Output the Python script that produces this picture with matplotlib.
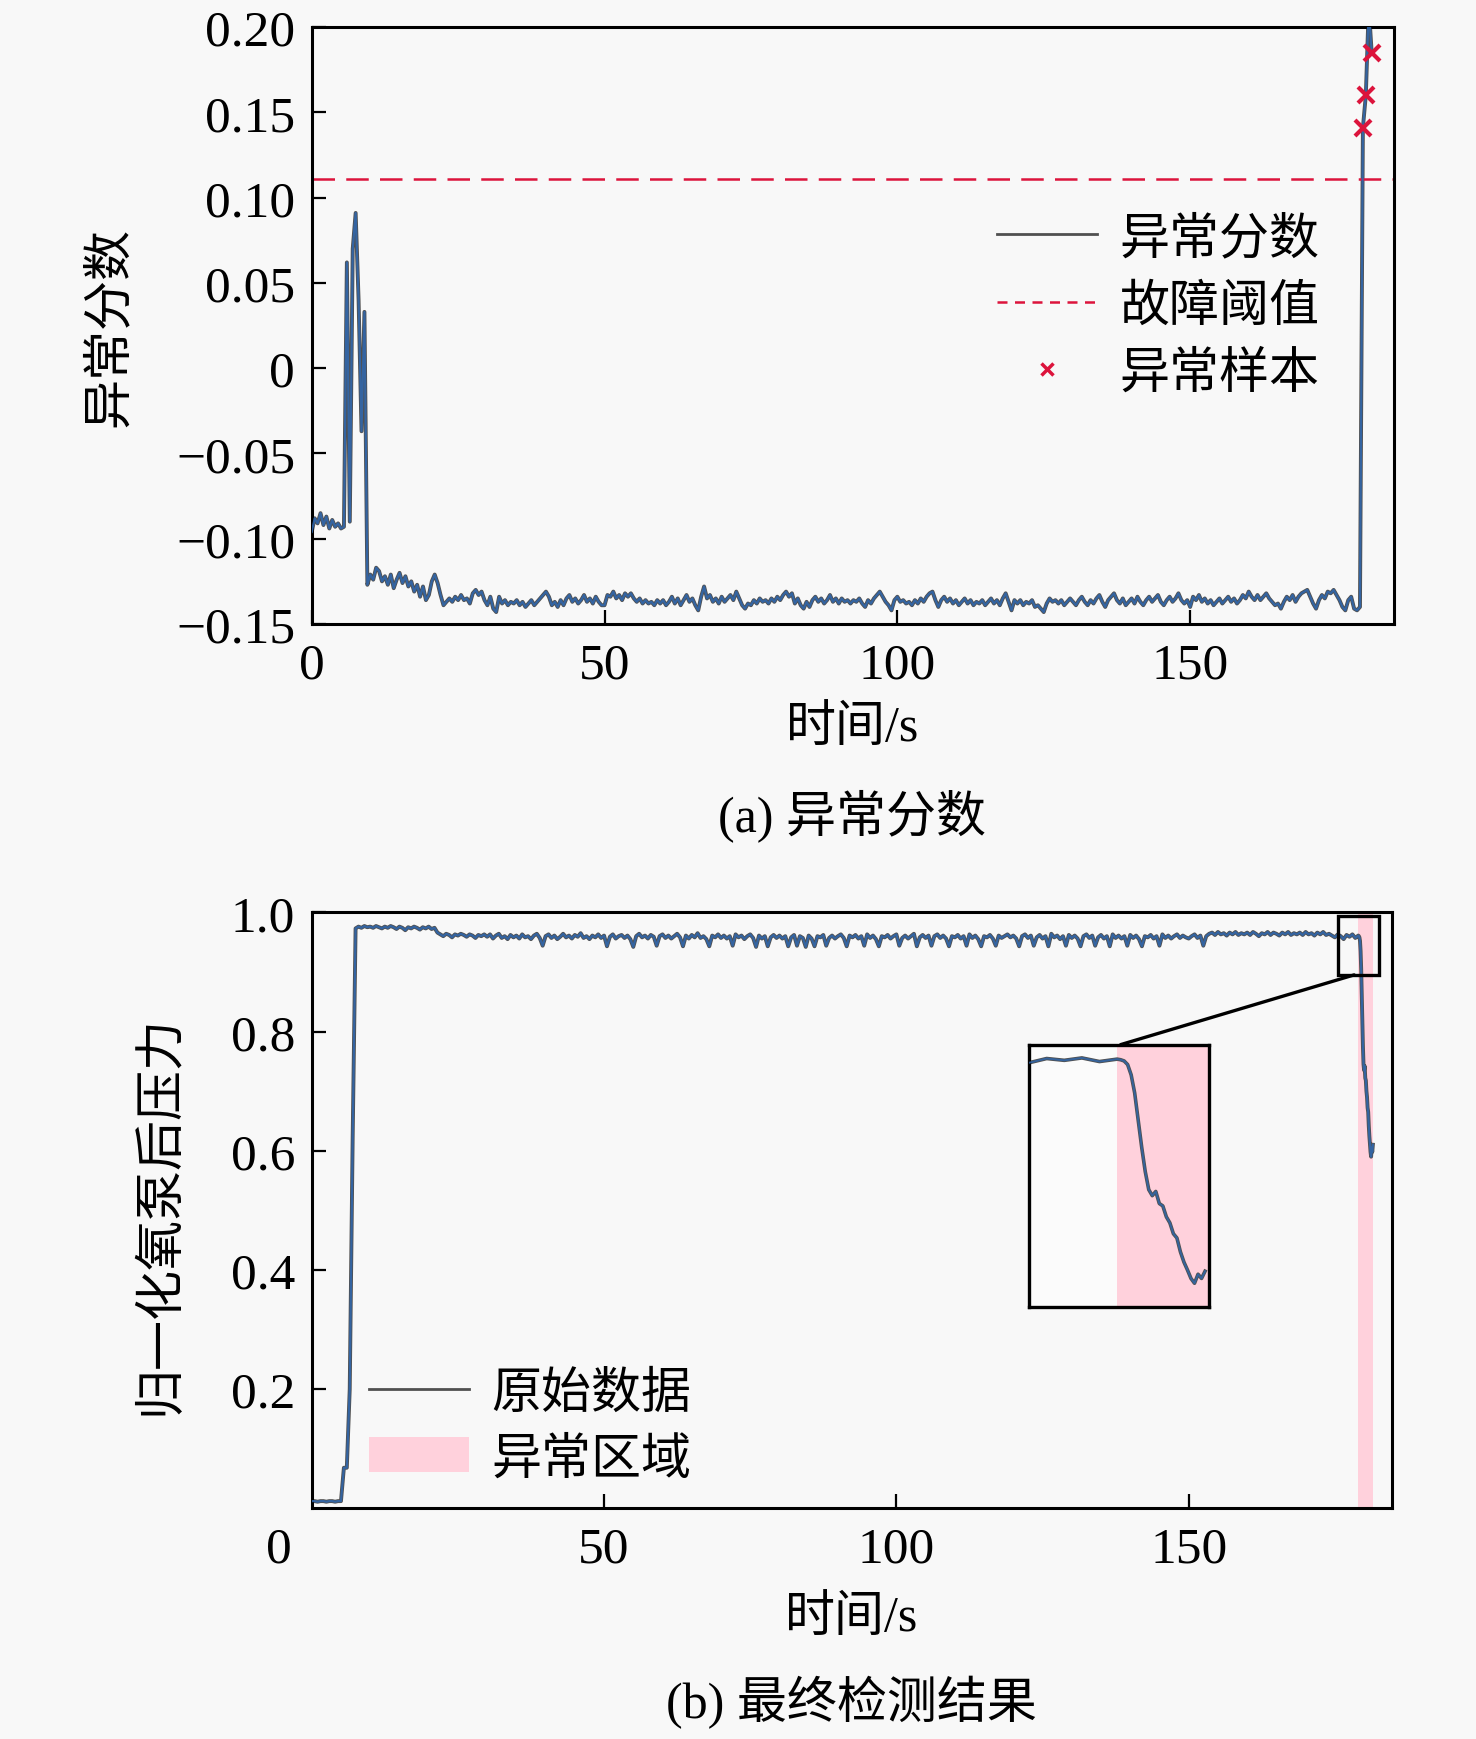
import numpy as np
import matplotlib.pyplot as plt
from matplotlib.lines import Line2D
from matplotlib.patches import Patch, Rectangle, ConnectionPatch

plt.rcParams['font.family'] = ['Liberation Serif', 'Noto Sans CJK SC']
plt.rcParams['axes.unicode_minus'] = True

# ---------------- data ----------------
# both records are sampled every 0.5 s up to 179 s
t_base = np.arange(0, 179.5, 0.5)

score_base = [
    -0.096, -0.088, -0.091, -0.085, -0.092, -0.087, -0.094, -0.089, -0.093, -0.091,
    -0.094, -0.093, 0.062, -0.090, 0.070, 0.091, 0.040, -0.037, 0.033, -0.127,
    -0.121, -0.124, -0.117, -0.119, -0.125, -0.122, -0.127, -0.121, -0.129, -0.124,
    -0.120, -0.126, -0.122, -0.128, -0.125, -0.131, -0.127, -0.134, -0.128, -0.136,
    -0.133, -0.125, -0.121, -0.126, -0.133, -0.139, -0.137, -0.135, -0.137, -0.134,
    -0.136, -0.133, -0.136, -0.135, -0.138, -0.132, -0.130, -0.133, -0.131, -0.136,
    -0.139, -0.134, -0.141, -0.143, -0.134, -0.138, -0.136, -0.139, -0.137, -0.138,
    -0.136, -0.139, -0.137, -0.140, -0.138, -0.136, -0.139, -0.137, -0.135, -0.133,
    -0.131, -0.134, -0.139, -0.137, -0.140, -0.136, -0.139, -0.135, -0.133, -0.137,
    -0.135, -0.138, -0.136, -0.133, -0.137, -0.135, -0.138, -0.134, -0.137, -0.139,
    -0.139, -0.133, -0.134, -0.131, -0.135, -0.133, -0.136, -0.132, -0.134, -0.132,
    -0.135, -0.137, -0.135, -0.138, -0.136, -0.138, -0.137, -0.139, -0.136, -0.138,
    -0.136, -0.139, -0.137, -0.134, -0.138, -0.135, -0.139, -0.136, -0.133, -0.137,
    -0.135, -0.139, -0.142, -0.134, -0.128, -0.135, -0.133, -0.137, -0.135, -0.138,
    -0.134, -0.137, -0.135, -0.133, -0.136, -0.131, -0.135, -0.139, -0.141, -0.138,
    -0.139, -0.136, -0.138, -0.135, -0.137, -0.136, -0.138, -0.135, -0.137, -0.134,
    -0.136, -0.133, -0.131, -0.134, -0.132, -0.138, -0.135, -0.139, -0.141, -0.137,
    -0.140, -0.136, -0.134, -0.137, -0.135, -0.138, -0.136, -0.133, -0.137, -0.135,
    -0.138, -0.135, -0.137, -0.136, -0.138, -0.136, -0.137, -0.135, -0.138, -0.140,
    -0.136, -0.138, -0.135, -0.133, -0.131, -0.134, -0.137, -0.139, -0.142, -0.136,
    -0.134, -0.137, -0.136, -0.138, -0.137, -0.139, -0.136, -0.138, -0.135, -0.137,
    -0.134, -0.132, -0.131, -0.136, -0.140, -0.136, -0.134, -0.137, -0.135, -0.138,
    -0.136, -0.139, -0.137, -0.135, -0.138, -0.136, -0.139, -0.137, -0.138, -0.136,
    -0.139, -0.137, -0.135, -0.138, -0.136, -0.139, -0.135, -0.132, -0.137, -0.142,
    -0.136, -0.138, -0.136, -0.139, -0.137, -0.138, -0.136, -0.140, -0.139, -0.141,
    -0.143, -0.138, -0.135, -0.137, -0.136, -0.138, -0.136, -0.139, -0.137, -0.135,
    -0.137, -0.139, -0.136, -0.134, -0.137, -0.139, -0.136, -0.138, -0.135, -0.133,
    -0.137, -0.140, -0.136, -0.134, -0.132, -0.136, -0.138, -0.135, -0.139, -0.137,
    -0.135, -0.138, -0.134, -0.137, -0.139, -0.136, -0.134, -0.137, -0.135, -0.133,
    -0.137, -0.139, -0.136, -0.134, -0.137, -0.135, -0.132, -0.136, -0.138, -0.136,
    -0.140, -0.134, -0.136, -0.133, -0.137, -0.135, -0.138, -0.136, -0.139, -0.137,
    -0.135, -0.138, -0.136, -0.134, -0.137, -0.135, -0.138, -0.136, -0.133, -0.135,
    -0.131, -0.134, -0.136, -0.133, -0.136, -0.134, -0.132, -0.135, -0.137, -0.139,
    -0.138, -0.141, -0.137, -0.134, -0.136, -0.133, -0.137, -0.134, -0.132, -0.131,
    -0.130, -0.134, -0.138, -0.141, -0.136, -0.133, -0.135, -0.131, -0.132, -0.130,
    -0.133, -0.136, -0.140, -0.142, -0.136, -0.134, -0.141, -0.142, -0.140,
]
t_spike = [179.5, 180.0, 180.5, 181.0]
score_spike = [0.141, 0.160, 0.212, 0.185]
threshold = 0.111

pressure_base = [
    0.012, 0.012, 0.011, 0.012, 0.012, 0.011, 0.012, 0.012, 0.011, 0.012,
    0.012, 0.068, 0.068, 0.200, 0.620, 0.973, 0.976, 0.974, 0.977, 0.975,
    0.976, 0.974, 0.977, 0.975, 0.973, 0.976, 0.974, 0.977, 0.975, 0.972,
    0.976, 0.974, 0.970, 0.975, 0.973, 0.976, 0.974, 0.971, 0.975, 0.973,
    0.976, 0.972, 0.974, 0.966, 0.963, 0.960, 0.964, 0.962, 0.958, 0.963,
    0.961, 0.964, 0.962, 0.959, 0.963, 0.961, 0.957, 0.962, 0.960, 0.963,
    0.959, 0.963, 0.956, 0.961, 0.964, 0.957, 0.960, 0.955, 0.962, 0.958,
    0.961, 0.956, 0.963, 0.958, 0.960, 0.955, 0.961, 0.964, 0.957, 0.944,
    0.960, 0.963, 0.957, 0.961, 0.955, 0.959, 0.964, 0.958, 0.961, 0.956,
    0.962, 0.959, 0.965, 0.957, 0.960, 0.955, 0.961, 0.958, 0.963, 0.957,
    0.961, 0.943, 0.959, 0.963, 0.956, 0.960, 0.962, 0.957, 0.961, 0.955,
    0.942, 0.960, 0.964, 0.958, 0.961, 0.956, 0.962, 0.959, 0.944, 0.960,
    0.963, 0.957, 0.961, 0.956, 0.960, 0.964, 0.958, 0.943, 0.961, 0.956,
    0.962, 0.958, 0.965, 0.957, 0.960, 0.955, 0.943, 0.961, 0.958, 0.963,
    0.957, 0.961, 0.956, 0.960, 0.944, 0.963, 0.958, 0.961, 0.955, 0.960,
    0.963, 0.957, 0.942, 0.961, 0.956, 0.960, 0.943, 0.958, 0.962, 0.957,
    0.961, 0.956, 0.960, 0.943, 0.958, 0.962, 0.944, 0.960, 0.957, 0.942,
    0.961, 0.956, 0.943, 0.960, 0.958, 0.962, 0.944, 0.957, 0.961, 0.956,
    0.960, 0.963, 0.957, 0.943, 0.961, 0.958, 0.962, 0.956, 0.960, 0.944,
    0.963, 0.957, 0.961, 0.955, 0.943, 0.960, 0.958, 0.962, 0.956, 0.960,
    0.963, 0.944, 0.957, 0.961, 0.956, 0.960, 0.964, 0.943, 0.958, 0.962,
    0.957, 0.961, 0.944, 0.960, 0.963, 0.957, 0.961, 0.956, 0.943, 0.960,
    0.958, 0.962, 0.956, 0.960, 0.944, 0.963, 0.957, 0.961, 0.955, 0.943,
    0.960, 0.958, 0.962, 0.956, 0.944, 0.961, 0.957, 0.960, 0.963, 0.958,
    0.961, 0.956, 0.943, 0.960, 0.963, 0.957, 0.961, 0.944, 0.958, 0.962,
    0.956, 0.960, 0.943, 0.964, 0.958, 0.961, 0.955, 0.960, 0.944, 0.962,
    0.957, 0.961, 0.956, 0.943, 0.960, 0.963, 0.957, 0.961, 0.944, 0.958,
    0.962, 0.956, 0.960, 0.943, 0.963, 0.957, 0.961, 0.956, 0.960, 0.944,
    0.962, 0.957, 0.961, 0.955, 0.943, 0.960, 0.958, 0.962, 0.956, 0.960,
    0.944, 0.963, 0.957, 0.961, 0.956, 0.960, 0.963, 0.957, 0.961, 0.958,
    0.956, 0.960, 0.963, 0.957, 0.961, 0.944, 0.960, 0.964, 0.966, 0.962,
    0.967, 0.963, 0.965, 0.961, 0.966, 0.963, 0.967, 0.962, 0.965, 0.963,
    0.966, 0.962, 0.967, 0.964, 0.960, 0.965, 0.963, 0.967, 0.962, 0.966,
    0.964, 0.961, 0.966, 0.963, 0.967, 0.962, 0.965, 0.963, 0.966, 0.962,
    0.967, 0.963, 0.965, 0.961, 0.966, 0.963, 0.967, 0.962, 0.964, 0.961,
    0.958, 0.963, 0.960, 0.955, 0.962, 0.959, 0.963, 0.957, 0.961,
]
t_drop = [179.1, 179.2, 179.3, 179.4, 179.5, 179.6, 179.7, 179.8, 179.9, 180.0,
          180.1, 180.2, 180.3, 180.4, 180.5, 180.6, 180.7, 180.8, 180.9, 181.0,
          181.1, 181.2, 181.3, 181.4, 181.5]
pressure_drop = [0.960, 0.958, 0.952, 0.935, 0.905, 0.860, 0.815, 0.775, 0.745, 0.735,
                 0.742, 0.722, 0.718, 0.700, 0.690, 0.672, 0.665, 0.642, 0.625, 0.612,
                 0.598, 0.590, 0.605, 0.598, 0.610]
anomaly_start, anomaly_end = 179.0, 181.6

score_yticks = [-0.15, -0.10, -0.05, 0, 0.05, 0.10, 0.15, 0.20]
score_ylabels = ['−0.15', '−0.10', '−0.05', '0', '0.05', '0.10', '0.15', '0.20']
press_yticks = [0.2, 0.4, 0.6, 0.8, 1.0]
press_ylabels = ['0.2', '0.4', '0.6', '0.8', '1.0']
xticks = [0, 50, 100, 150]

t_score = np.concatenate([t_base, t_spike])
score = np.array(score_base + score_spike)
t_press = np.concatenate([t_base, t_drop])
press = np.array(pressure_base + pressure_drop)

# ---------------- style ----------------
bg = '#f8f8f8'
gray = '#505050'
blue = '#2f68b0'
red = '#dc143c'
pink = '#ffd1dc'
tick_fs = 37
cjk_fs = 36

fig = plt.figure(figsize=(14.76, 17.40), dpi=100, facecolor=bg)
ax1 = fig.add_axes([0.2112, 0.6408, 0.7332, 0.3431])
ax2 = fig.add_axes([0.2112, 0.1326, 0.7316, 0.3425])


def style_axes(ax):
    ax.set_facecolor(bg)
    for s in ax.spines.values():
        s.set_linewidth(2.2)
    ax.tick_params(direction='in', length=10, width=1.6, labelsize=tick_fs,
                   top=False, right=False)
    ax.tick_params(axis='x', pad=13)
    ax.tick_params(axis='y', pad=12)


# ---- (a) anomaly score ----
style_axes(ax1)
ax1.plot(t_score, score, color=gray, lw=2.8, zorder=2)
ax1.plot(t_score, score, color=blue, lw=1.6, alpha=0.85, zorder=3)
ax1.axhline(threshold, color=red, lw=1.8, dashes=(9, 4.5), zorder=2)
mask = score > threshold
ax1.plot(t_score[mask], score[mask], ls='none', marker='x', ms=11, mew=3,
         color=red, zorder=4)
ax1.set_xlim(0, 184.8)
ax1.set_ylim(-0.15, 0.20)
ax1.set_xticks(xticks)
ax1.set_yticks(score_yticks)
ax1.set_yticklabels(score_ylabels)
ax1.text(0.5, -0.174, '时间/s', transform=ax1.transAxes, ha='center', va='center',
         fontsize=cjk_fs)
ax1.text(-0.186, 0.5, '异常分数', transform=ax1.transAxes, ha='center', va='center',
         rotation=90, fontsize=cjk_fs)

h1 = [Line2D([], [], color=gray, lw=2),
      Line2D([], [], color=red, lw=1.8, dashes=(4, 3)),
      Line2D([], [], ls='none', marker='x', ms=8, mew=2.5, color=red)]
ax1.legend(h1, ['异常分数', '故障阈值', '异常样本'], loc='upper left',
           bbox_to_anchor=(0.61, 0.725), frameon=False, fontsize=cjk_fs,
           handlelength=2.0, handletextpad=0.45, labelspacing=0.42, borderpad=0)

# ---- (b) final detection ----
style_axes(ax2)
ax2.axvspan(anomaly_start, anomaly_end, color=pink, lw=0, zorder=1)
ax2.plot(t_press, press, color=gray, lw=2.8, zorder=2)
ax2.plot(t_press, press, color=blue, lw=1.6, alpha=0.85, zorder=3)
ax2.set_xlim(0, 184.7)
ax2.set_ylim(0, 1.0)
ax2.set_xticks(xticks[1:])
ax2.set_yticks(press_yticks)
ax2.set_yticklabels(press_ylabels)
ax2.annotate('0', xy=(0, 0), xycoords='data', xytext=(-24, -13),
             textcoords='offset points', ha='center', va='top', fontsize=tick_fs)
ax2.text(0.5, -0.184, '时间/s', transform=ax2.transAxes, ha='center', va='center',
         fontsize=cjk_fs)
ax2.text(-0.14, 0.494, '归一化氧泵后压力', transform=ax2.transAxes, ha='center',
         va='center', rotation=90, fontsize=cjk_fs)

h2 = [Line2D([], [], color=gray, lw=2), Patch(facecolor=pink, edgecolor='none')]
ax2.legend(h2, ['原始数据', '异常区域'], loc='lower left',
           bbox_to_anchor=(0.03, 0.0), frameon=False, fontsize=cjk_fs,
           handlelength=2.0, handletextpad=0.45, labelspacing=0.38, borderpad=0)

# zoom box and inset
ax2.add_patch(Rectangle((175.6, 0.895), 7.0, 0.098, fill=False, ec='black',
                        lw=2.4, zorder=5))
axin = ax2.inset_axes([122.7, 0.337, 30.7, 0.441], transform=ax2.transData)
axin.set_facecolor('#fbfbfb')
axin.axvspan(anomaly_start, anomaly_end, color=pink, lw=0, zorder=1)
axin.plot(t_press, press, color=gray, lw=2.6, zorder=2)
axin.plot(t_press, press, color=blue, lw=1.4, alpha=0.8, zorder=3)
axin.set_xlim(176.5, 181.6)
axin.set_ylim(0.55, 0.985)
axin.set_xticks([])
axin.set_yticks([])
for s in axin.spines.values():
    s.set_linewidth(2.4)
con = ConnectionPatch(xyA=(178.3, 0.895), coordsA=ax2.transData,
                      xyB=(0.51, 1.0), coordsB=axin.transAxes,
                      color='black', lw=2.4)
fig.add_artist(con)

fig.text(0.577, 0.531, '(a) 异常分数', ha='center', va='center', fontsize=cjk_fs)
fig.text(0.577, 0.0213, '(b) 最终检测结果', ha='center', va='center', fontsize=cjk_fs)

fig.savefig('out.png', dpi=100, facecolor=bg)
